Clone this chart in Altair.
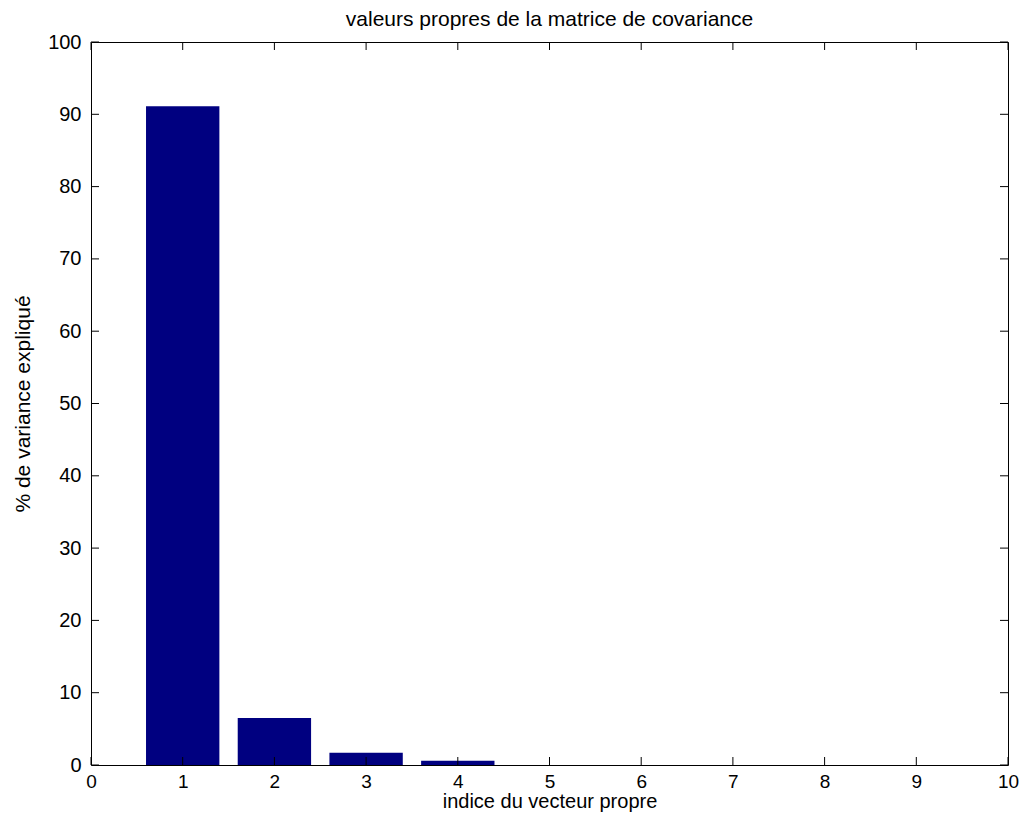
import altair as alt
import pandas as pd

indices = [1, 2, 3, 4, 5, 6, 7, 8, 9]
values = [91.1, 6.5, 1.7, 0.6, 0.0, 0.0, 0.0, 0.0, 0.0]
x_ticks = list(range(0, 11))
y_ticks = list(range(0, 101, 10))

W, H = 917, 723
TL = 8
FONT = "Liberation Sans"

bars_df = pd.DataFrame({"indice": indices, "pct": values})
xt_df = pd.DataFrame({"t": x_ticks})
yt_df = pd.DataFrame({"t": y_ticks})

xscale = alt.Scale(domain=[0, 10], nice=False, zero=False)
yscale = alt.Scale(domain=[0, 100], nice=False)

bars = alt.Chart(bars_df).transform_filter("datum.pct > 0").transform_calculate(
    x0="datum.indice - 0.4", x1="datum.indice + 0.4"
).mark_rect(color="#000080").encode(
    x=alt.X("x0:Q", scale=xscale,
            axis=alt.Axis(values=x_ticks, ticks=False, domain=False, grid=False,
                          labelPadding=7, labelFlush=False, labelOverlap=False,
                          labelFontSize=19,
                          title="indice du vecteur propre", titleFontSize=20,
                          titlePadding=0, format="d")),
    x2="x1:Q",
    y=alt.Y("pct:Q", scale=yscale,
            axis=alt.Axis(values=y_ticks, ticks=False, domain=False, grid=False,
                          labelPadding=10, labelFlush=False, labelOverlap=False,
                          labelFontSize=20,
                          title="% de variance expliqué", titleFontSize=21,
                          titlePadding=14, format="d")),
    y2=alt.datum(0),
)

bx = alt.Chart(xt_df).mark_rule(color="black", strokeWidth=1)
xb = bx.encode(x=alt.X("t:Q", scale=xscale, axis=None), y=alt.value(H), y2=alt.value(H - TL))
xtop = bx.encode(x=alt.X("t:Q", scale=xscale, axis=None), y=alt.value(0), y2=alt.value(TL))
by = alt.Chart(yt_df).mark_rule(color="black", strokeWidth=1)
yl = by.encode(y=alt.Y("t:Q", scale=yscale, axis=None), x=alt.value(0), x2=alt.value(TL))
yr = by.encode(y=alt.Y("t:Q", scale=yscale, axis=None), x=alt.value(W), x2=alt.value(W - TL))

chart = alt.layer(bars, xb, xtop, yl, yr).resolve_axis(
    x="independent", y="independent"
).properties(
    width=W, height=H,
    title=alt.TitleParams("valeurs propres de la matrice de covariance",
                          fontSize=21, fontWeight="normal", font=FONT,
                          color="black", offset=2),
    autosize=alt.AutoSizeParams(type="none"),
    padding={"left": 83, "top": 34, "right": 11, "bottom": 47},
).configure_view(stroke="black", strokeWidth=1).configure_axis(
    labelFont=FONT, titleFont=FONT,
    labelColor="black", titleColor="black", titleFontWeight="normal",
)

chart.save("out.html", embed_options={"renderer": "svg", "actions": False})
